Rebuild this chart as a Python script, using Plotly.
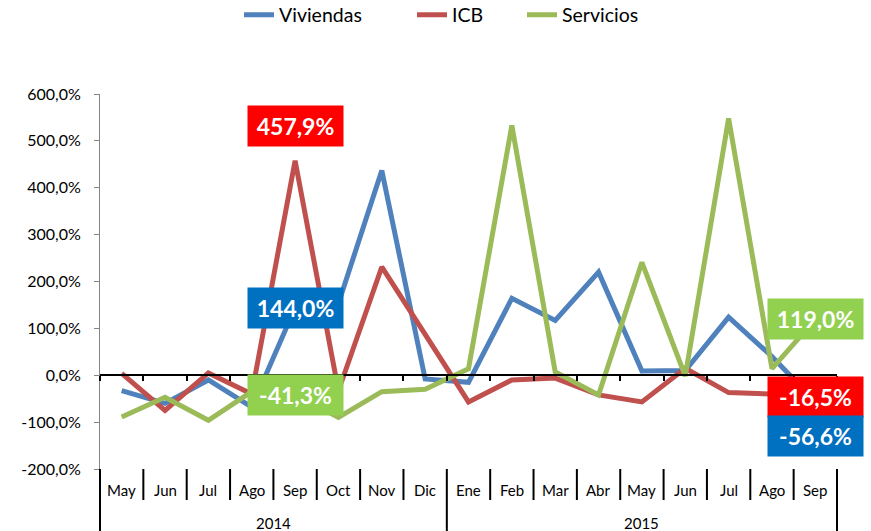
import plotly.graph_objects as go

# ---------------- data ----------------
months = ["May", "Jun", "Jul", "Ago", "Sep", "Oct", "Nov", "Dic",
          "Ene", "Feb", "Mar", "Abr", "May", "Jun", "Jul", "Ago", "Sep"]
year_labels = ["2014", "2015"]
year_counts = [8, 9]

viviendas = [-33, -60, -10, -68, 144.0, 153, 437, -8, -15, 164, 117, 220, 9, 10, 124, 40, -56.6]
icb = [4, -75, 5, -40, 457.9, -33, 231, 85, -57, -10, -6, -42, -57, 15, -37, -40, -16.5]
servicios = [-89, -47, -96, -35, -41.3, -90, -35, -30, 14, 533, 7, -42, 241, -2, 548, 14, 119.0]

y_ticks = [-200, -100, 0, 100, 200, 300, 400, 500, 600]

series_names = ["Viviendas", "ICB", "Servicios"]
series_colors = ["#4F81BD", "#C0504D", "#9BBB59"]
box_colors = ["#0070C0", "#FF0000", "#92D050"]


def fmt(v):
    return f"{v:.1f}".replace(".", ",") + "%"


FONT = "Lato, 'Open Sans', sans-serif"
W, H = 871, 531
n = len(months)
x_idx = list(range(n))
xmin, xmax = -0.5, n - 0.5
ymin, ymax = y_ticks[0], y_ticks[-1]

legend_ids = ["legend", "legend2", "legend3"]
legend_left_px = [239, 412, 522]

fig = go.Figure()
for name, vals, col, lid in zip(series_names, [viviendas, icb, servicios],
                                series_colors, legend_ids):
    fig.add_trace(go.Scatter(
        x=x_idx, y=vals, name=name, mode="lines",
        line=dict(color=col, width=5),
        hoverinfo="skip", legend=lid,
    ))

# ---------------- value boxes ----------------
all_series = [viviendas, icb, servicios]
# (series index, point index, vertical pixel shift)
boxes = [
    (1, 4, 35),
    (0, 4, 0),
    (2, 4, 0),
    (2, n - 1, 0),
    (1, n - 1, -14),
    (0, n - 1, -34),
]
annotations = []
for si, pi, ys in boxes:
    v = all_series[si][pi]
    annotations.append(dict(
        x=pi, y=v, xref="x", yref="y", yshift=ys,
        text="<b>" + fmt(v) + "</b>", showarrow=False,
        font=dict(family=FONT, size=23, color="white"),
        bgcolor=box_colors[si], width=95, height=40, borderpad=0,
        xanchor="center", yanchor="middle",
    ))

# ---------------- category labels ----------------
for i, m in enumerate(months):
    annotations.append(dict(
        x=i, y=0, xref="x", yref="paper", yshift=-21,
        text=m, showarrow=False, xanchor="center", yanchor="middle",
        font=dict(family=FONT, size=15, color="black"),
    ))

shapes = []


def xfrac(b):
    return (b - xmin) / (xmax - xmin)


start = 0
year_bounds = [xmin]
for lab, cnt in zip(year_labels, year_counts):
    center = start + (cnt - 1) / 2
    annotations.append(dict(
        x=center, y=0, xref="x", yref="paper", yshift=-54,
        text=lab, showarrow=False, xanchor="center", yanchor="middle",
        font=dict(family=FONT, size=15, color="black"),
    ))
    start += cnt
    year_bounds.append(start - 0.5)

for i in range(1, n):
    b = i - 0.5
    if b in year_bounds:
        continue
    shapes.append(dict(
        type="line", xref="paper", yref="paper", ysizemode="pixel", yanchor=0,
        x0=xfrac(b), x1=xfrac(b), y0=0, y1=-31,
        line=dict(color="black", width=2),
    ))
for b in year_bounds:
    shapes.append(dict(
        type="line", xref="paper", yref="paper", ysizemode="pixel", yanchor=0,
        x0=xfrac(b), x1=xfrac(b), y0=0, y1=-62,
        line=dict(color="black", width=2),
    ))

legend_common = dict(
    orientation="h", xref="container", yref="container",
    xanchor="left", y=1 - 15 / H, yanchor="middle",
    font=dict(family=FONT, size=19.5, color="black"),
    bgcolor="rgba(0,0,0,0)",
)
legend_layout = {}
for lid, lx in zip(legend_ids, legend_left_px):
    legend_layout[lid] = dict(legend_common, x=lx / W)

fig.update_layout(
    width=W, height=H,
    margin=dict(l=100, r=34, t=94, b=62),
    paper_bgcolor="white", plot_bgcolor="white",
    font=dict(family=FONT, color="black"),
    showlegend=True,
    xaxis=dict(
        range=[xmin, xmax], anchor="free",
        position=(0 - ymin) / (ymax - ymin),
        tickmode="array", tickvals=[i - 0.5 for i in range(n + 1)],
        ticks="outside", ticklen=5, tickwidth=1.5, tickcolor="black",
        showticklabels=False, showline=True, linecolor="black", linewidth=2,
        showgrid=False, zeroline=False, fixedrange=True,
    ),
    yaxis=dict(
        range=[ymin, ymax], tickmode="array", tickvals=y_ticks,
        ticktext=[fmt(v) for v in y_ticks],
        ticks="outside", ticklen=5, tickcolor="#868686",
        showline=True, linecolor="#868686", linewidth=1,
        showgrid=False, zeroline=False, ticklabelstandoff=10,
        tickfont=dict(family=FONT, size=16, color="black"),
        fixedrange=True,
    ),
    annotations=annotations,
    shapes=shapes,
    **legend_layout,
)

fig.write_html("out.html",
               config={"displayModeBar": False},
               post_script="document.body.style.margin='0';document.body.style.overflow='hidden';")
